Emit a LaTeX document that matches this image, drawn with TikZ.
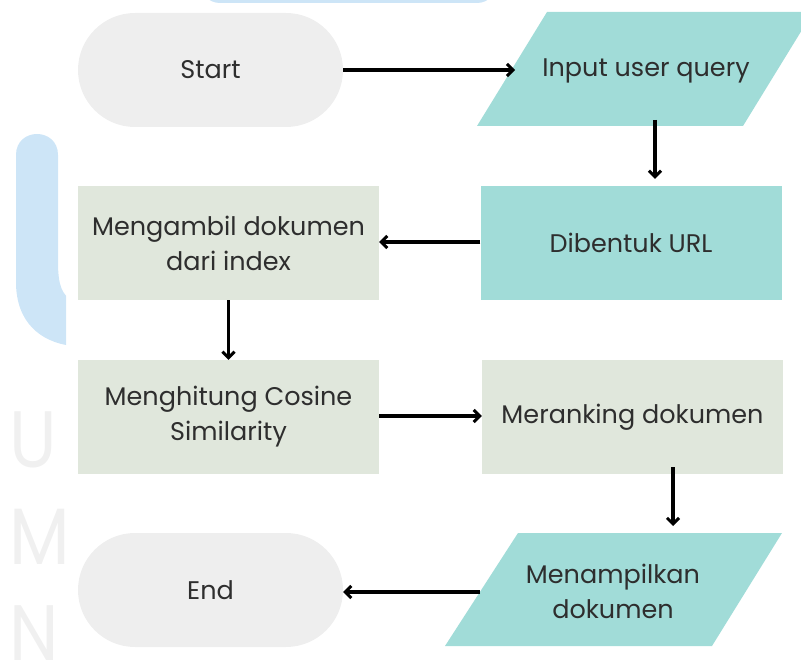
\documentclass[tikz,border=0pt]{standalone}
\usepackage{fontspec}
\setmainfont{Poppins}
\usetikzlibrary{arrows.meta}
\definecolor{tealbox}{HTML}{A1DCD8}
\definecolor{sagebox}{HTML}{E0E7DC}
\definecolor{termgrey}{HTML}{EEEEEE}
\definecolor{inkgrey}{HTML}{2E2E2E}
\definecolor{wmblue}{HTML}{CDE5F7}
\definecolor{wmgrey}{HTML}{F0F0F0}
\begin{document}
\begin{tikzpicture}[x=1pt,y=-1pt,
  label/.style={text=inkgrey,font=\fontsize{25.5}{35}\selectfont,align=center,inner sep=0pt},
  term/.style={label,fill=termgrey,rounded corners=57pt,minimum width=265pt,minimum height=114pt},
  box/.style={label,minimum width=301pt,minimum height=114pt},
  arr/.style={line width=3.2pt,-{Straight Barb[length=6pt,width=12pt,line width=3pt]}},
  wm/.style={text=wmgrey,font=\fontsize{80}{80}\selectfont,inner sep=0pt,anchor=base west,xscale=0.88}]
\useasboundingbox (0,0) rectangle (801,660);

% faint logo watermark behind the chart
\fill[wmblue,rounded corners=20pt] (200,-40) rectangle (497,3);
\begin{scope}
  \clip (0,0) rectangle (66,660);
  \fill[wmblue] (16,155) .. controls (16,127) and (58,127) .. (58,155)
    -- (58,262) .. controls (58,285) and (62,295) .. (72,300)
    -- (72,346) .. controls (40,342) and (16,322) .. (16,282) -- cycle;
  \node[wm] (wmu) at (9,467) {U};
  \node[wm] (wmm) at (9,564) {M};
  \node[wm] (wmn) at (9,661) {N};
\end{scope}

% process steps
\node[term] (start) at (210.5,70) {Start};
\fill[tealbox] (477,126) -- (547,12) -- (813,12) -- (743,126) -- cycle;
\node[label] (input) at (646,71) {Input user query};
\node[box,fill=tealbox] (url) at (631,243) {Dibentuk URL};
\node[box,fill=sagebox] (take) at (228.5,243) {Mengambil dokumen\\dari index};
\node[box,fill=sagebox] (calc) at (228.5,417) {Menghitung Cosine\\Similarity};
\node[box,fill=sagebox] (rank) at (632.5,417) {Meranking dokumen};
\fill[tealbox] (445,646) -- (518,533) -- (782,533) -- (712,646) -- cycle;
\node[label] (show) at (613,591) {Menampilkan\\dokumen};
\node[term] (end) at (210.5,590) {End};

% connector ends on the slanted shapes
\coordinate (inleft) at (515,70);
\coordinate (inbot) at (655,120);
\coordinate (rankbot) at (673,467);
\coordinate (showleft) at (480,592);

\draw[arr] (start.east) -- (inleft);
\draw[arr,shorten >=7pt] (inbot) -- (inbot |- url.north);
\draw[arr] ([yshift=1pt]url.west) -- ([yshift=1pt]take.east);
\draw[arr] (take.south) -- (calc.north);
\draw[arr] ([yshift=1pt]calc.east) -- ([yshift=1pt]rank.west);
\draw[arr] (rankbot) -- (673,526);
\draw[arr] (showleft) -- (showleft -| end.east);
\end{tikzpicture}
\end{document}
